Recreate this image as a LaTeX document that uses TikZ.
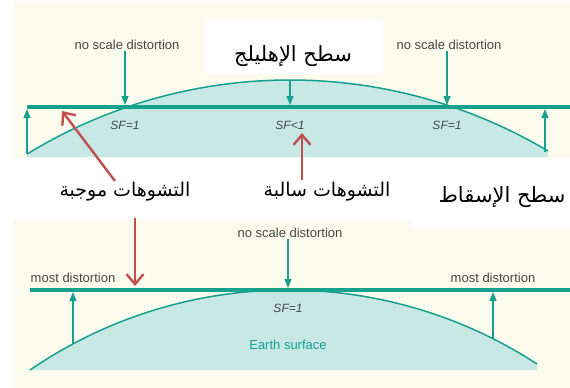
\documentclass[tikz,border=0pt]{standalone}
\usepackage{fontspec}
\setmainfont{Liberation Sans}
\newfontfamily\arabicfont[Script=Arabic]{DejaVu Sans}
\TeXXeTstate=1
\usetikzlibrary{arrows.meta}
\definecolor{tealline}{HTML}{16A08E}
\definecolor{earthfill}{HTML}{C8E8E5}
\definecolor{creambg}{HTML}{FBFBEE}
\definecolor{redarrow}{HTML}{C0504D}
\definecolor{labelgray}{HTML}{474747}

\begin{document}
\begin{tikzpicture}[x=1pt, y=-1pt,
    surface/.style={draw=tealline, line width=3.8pt},
    earth/.style={draw=tealline, line width=1.5pt},
    tarrow/.style={-{Triangle[length=9pt, width=7pt]}, draw=tealline, line width=1.3pt},
    rarrow/.style={-{Straight Barb[length=10pt, width=17pt]}, draw=redarrow, line width=2.4pt},
    note/.style={font=\fontsize{13}{15}\selectfont, text=labelgray, inner sep=1pt},
    sf/.style={font=\fontsize{12}{14}\selectfont\itshape, text=labelgray, inner sep=1pt},
    artext/.style={font=\fontsize{19}{22}\selectfont\arabicfont, text=black, inner sep=2pt},
    bigartext/.style={artext, font=\fontsize{21}{24}\selectfont\arabicfont}
]
\useasboundingbox (0,0) rectangle (570,388);
\fill[white] (0,0) rectangle (570,388);

% Backgrounds
\fill[creambg] (13,3) rectangle (570,158);
\fill[creambg] (13,220) -- (410,220) -- (410,228) -- (570,228) -- (570,388) -- (13,388) -- cycle;
\node[fill=white, minimum width=179pt, minimum height=54pt, inner sep=0pt] (ellbox) at (293.5,47) {};

% Earth surfaces
\fill[earthfill] plot[domain=27:548, samples=80] (\x, {80+504*(1-sqrt(1-((\x-290)/504)^2))}) -- (548,157) -- (27,157) -- cycle;
\draw[earth] plot[domain=27:548, samples=80] (\x, {80+504*(1-sqrt(1-((\x-290)/504)^2))});
\fill[earthfill] plot[domain=30:537, samples=80] (\x, {290+456*(1-sqrt(1-((\x-288)/456)^2))}) -- (537,370) -- (30,370) -- cycle;
\draw[earth] plot[domain=30:537, samples=80] (\x, {290+456*(1-sqrt(1-((\x-288)/456)^2))});

% Projection surfaces
\coordinate (topl) at (27,107);
\coordinate (topr) at (570,107);
\coordinate (botl) at (30,290);
\coordinate (botr) at (570,290);
\draw[surface] (topl) -- (topr);
\draw[surface] (botl) -- (botr);

% Labels
\node[note] (nsd1) at (127,45) {no scale distortion};
\node[note] (nsd2) at (449,45) {no scale distortion};
\node[note] (nsd3) at (290,233) {no scale distortion};
\node[note] (md1)  at (73,278)  {most distortion};
\node[note] (md2)  at (493,278) {most distortion};
\node[sf] (sf1) at (125,125) {SF=1};
\node[sf] (sf2) at (290,125) {SF<1};
\node[sf] (sf3) at (447,125) {SF=1};
\node[sf] (sf4) at (288,308) {SF=1};
\node[note, text=tealline] (earth) at (288,345) {Earth surface};

\node[bigartext] (ell)  at (293,56)  {\beginR سطح الإهليلج\endR};
\node[artext] (pos)  at (125,192) {\beginR التشوهات موجبة\endR};
\node[artext] (neg)  at (327,192) {\beginR التشوهات سالبة\endR};
\node[bigartext] (proj) at (502,197) {\beginR سطح الإسقاط\endR};

% Teal arrows
\coordinate (a1) at (125,105);
\coordinate (a2) at (447,105);
\coordinate (pk) at (290,80);
\coordinate (pkl) at (290,105);
\coordinate (el) at (27,154);
\coordinate (ell2) at (27,109);
\coordinate (er) at (545,152);
\coordinate (er2) at (545,109);
\draw[tarrow] (a1 |- nsd1.south) -- (a1);
\draw[tarrow] (a2 |- nsd2.south) -- (a2);
\draw[tarrow] (pk) -- (pkl);
\draw[tarrow] (el) -- (ell2);
\draw[tarrow] (er) -- (er2);

\coordinate (b1) at (288,288);
\coordinate (bl) at (73,344);
\coordinate (bl2) at (73,292);
\coordinate (br) at (493,339);
\coordinate (br2) at (493,292);
\draw[tarrow] (b1 |- nsd3.south) -- (b1);
\draw[tarrow] (bl) -- (bl2);
\draw[tarrow] (br) -- (br2);

% Red arrows
\coordinate (posup) at (115,181);
\coordinate (postip) at (62,111);
\coordinate (negup) at (302,180);
\coordinate (negtip) at (302,133);
\coordinate (posdn) at (135,218);
\coordinate (posdntip) at (135,286);
\draw[rarrow] (posup) -- (postip);
\draw[rarrow] (negup) -- (negtip);
\draw[rarrow] (posdn) -- (posdntip);

\end{tikzpicture}
\end{document}
